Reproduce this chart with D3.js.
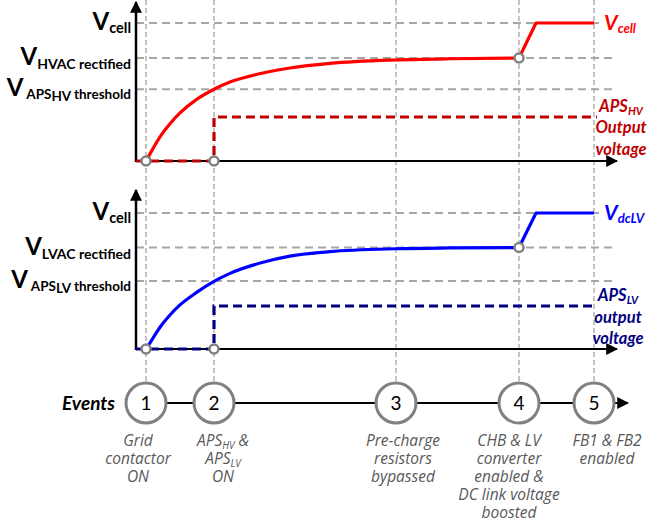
<!DOCTYPE html>
<html>
<head>
<meta charset="utf-8">
<script src="https://cdn.jsdelivr.net/npm/d3@7"></script>
<style>
  body { margin: 0; background: #fff; }
  svg { display: block; font-family: Lato, "Open Sans", sans-serif; }
</style>
</head>
<body>
<div id="chart"></div>
<script>
// time axis is arbitrary units, events along it
const eventT = [10, 78, 260, 383, 458];
const eventNames = ["1", "2", "3", "4", "5"];
const eventLabels = [
  [["Grid"], ["contactor"], ["ON"]],
  [["APS", "HV", " &"], ["APS", "LV"], ["ON"]],
  [["Pre-charge"], ["resistors"], ["bypassed"]],
  [["CHB & LV"], ["converter"], ["enabled &"], ["DC link voltage"], ["boosted"]],
  [["FB1 & FB2"], ["enabled"]]
];
const timeMax = 481;

// normalised voltage levels: Vcell, V rectified, APS threshold
const hvLevels = [1, 0.746, 0.52];
const lvLevels = [1, 0.746, 0.5];
const hvApsLevel = 0.319;
const lvApsLevel = 0.316;

// charging curves
const hvCharge = [[10,0],[17,0.09],[24,0.175],[34,0.27],[44,0.348],[61,0.448],[78,0.52],[94,0.572],[127,0.638],[154,0.674],[194,0.707],[260,0.732],[314,0.741],[383,0.746]];
const hvBoost = [[383,0.746],[400,1],[458,1]];
const lvCharge = [[10,0],[17,0.08],[24,0.16],[34,0.25],[44,0.324],[61,0.418],[78,0.497],[94,0.556],[127,0.638],[154,0.683],[194,0.716],[260,0.737],[314,0.743],[383,0.746]];
const lvBoost = [[383,0.746],[400,1],[458,1]];
const hvAps = [[0,0],[78,0],[78,hvApsLevel],[461,hvApsLevel]];
const lvAps = [[0,0],[78,0],[78,lvApsLevel],[461,lvApsLevel]];
const hvMarkers = [[10,0],[78,0],[383,0.746]];
const lvMarkers = [[10,0],[78,0],[383,0.746]];

const width = 647, height = 524;
const svg = d3.select("#chart").append("svg")
  .attr("width", width).attr("height", height);

svg.append("defs").append("marker")
  .attr("id", "arrow")
  .attr("viewBox", "0 0 10 10")
  .attr("refX", 9).attr("refY", 5)
  .attr("markerWidth", 12).attr("markerHeight", 12)
  .attr("markerUnits", "userSpaceOnUse")
  .attr("orient", "auto")
  .append("path").attr("d", "M0,0L10,5L0,10Z").attr("fill", "#000");

const x = d3.scaleLinear().domain([0, timeMax]).range([136, 617]);
const gridColor = "#a6a6a6";

// vertical event gridlines through both panels
svg.append("g").selectAll("line")
  .data(eventT)
  .join("line")
  .attr("x1", d => x(d)).attr("x2", d => x(d))
  .attr("y1", 0).attr("y2", 383)
  .attr("stroke", gridColor).attr("stroke-width", 1.3)
  .attr("stroke-dasharray", "5,3");

function drawPanel(opts) {
  const y = d3.scaleLinear().domain([0, 1]).range(opts.range);
  const g = svg.append("g");

  // horizontal level gridlines
  g.selectAll(".hgrid")
    .data(opts.levels)
    .join("line")
    .attr("class", "hgrid")
    .attr("x1", x(0)).attr("x2", (d, i) => i === 0 ? x(464) : x(477))
    .attr("y1", d => y(d)).attr("y2", d => y(d))
    .attr("stroke", gridColor).attr("stroke-width", 2)
    .attr("stroke-dasharray", "8,5");

  // axes
  g.append("line")
    .attr("x1", x(0)).attr("x2", x(0))
    .attr("y1", y(0) + 1).attr("y2", y(opts.top))
    .attr("stroke", "#000").attr("stroke-width", 2.5)
    .attr("marker-end", "url(#arrow)");
  g.append("line")
    .attr("x1", x(0) - 1).attr("x2", x(timeMax))
    .attr("y1", y(0)).attr("y2", y(0))
    .attr("stroke", "#000").attr("stroke-width", 2)
    .attr("marker-end", "url(#arrow)");

  const line = d3.line().x(d => x(d[0])).y(d => y(d[1]));
  const smooth = d3.line().x(d => x(d[0])).y(d => y(d[1])).curve(d3.curveMonotoneX);

  g.append("path")
    .attr("d", line(opts.aps))
    .attr("fill", "none")
    .attr("stroke", opts.apsColor).attr("stroke-width", 3.2)
    .attr("stroke-dasharray", "9,5");

  g.append("path")
    .attr("d", smooth(opts.charge))
    .attr("fill", "none")
    .attr("stroke", opts.color).attr("stroke-width", 3.2);
  g.append("path")
    .attr("d", line(opts.boost))
    .attr("fill", "none")
    .attr("stroke", opts.color).attr("stroke-width", 3.2)
    .attr("stroke-linejoin", "round");

  g.selectAll(".mk")
    .data(opts.markers)
    .join("circle")
    .attr("class", "mk")
    .attr("cx", d => x(d[0])).attr("cy", d => y(d[1]))
    .attr("r", 4.5)
    .attr("fill", "#fff").attr("stroke", "#808080").attr("stroke-width", 2.5);

  // left level labels
  opts.levels.forEach((lv, i) => {
    const t = g.append("text")
      .attr("x", 131).attr("y", y(lv) + 7)
      .attr("text-anchor", "end")
      .attr("font-weight", "bold").attr("fill", "#000");
    t.append("tspan").attr("font-size", 24).text("V");
    opts.leftLabels[i].forEach(p => {
      t.append("tspan")
        .attr("font-size", p.size)
        .attr("dy", p.dy)
        .text(p.text);
    });
  });

  // right labels
  const r1 = g.append("text")
    .attr("x", 604).attr("y", y(1) + 7)
    .attr("font-weight", "bold").attr("font-style", "italic")
    .attr("fill", opts.color);
  r1.append("tspan").attr("font-size", 21).text("V");
  r1.append("tspan").attr("font-size", 13).attr("dy", 3).text(opts.rightSub);

  // APS output label, one text block with a line per tspan
  const at = g.append("text")
    .attr("x", opts.apsTextX).attr("y", y(opts.apsLevel) - 5)
    .attr("text-anchor", "middle")
    .attr("font-weight", "bold").attr("font-style", "italic")
    .attr("font-size", 16.5)
    .attr("fill", opts.apsColor);
  opts.apsText.forEach((ln, i) => {
    const row = at.append("tspan")
      .attr("x", opts.apsTextX).attr("dy", i === 0 ? 0 : 21.5);
    if (Array.isArray(ln)) {
      row.append("tspan").text(ln[0]);
      row.append("tspan").attr("font-size", 11).attr("baseline-shift", "-3").text(ln[1]);
    } else {
      row.text(ln);
    }
  });
}

drawPanel({
  range: [161, 23], top: 1.152,
  levels: hvLevels,
  color: "#ff0000", apsColor: "#c00000",
  charge: hvCharge, boost: hvBoost, aps: hvAps, apsLevel: hvApsLevel,
  markers: hvMarkers,
  leftLabels: [
    [{ text: "cell", size: 14.5, dy: 3 }],
    [{ text: "HVAC rectified", size: 14, dy: 4 }],
    [{ text: "  APS", size: 13.5, dy: 3 }, { text: "HV", size: 13.5, dy: 2 }, { text: " threshold", size: 13.5, dy: -2 }]
  ],
  rightSub: "cell",
  apsText: [["APS", "HV"], "Output", "voltage"],
  apsTextX: 621
});

drawPanel({
  range: [349, 213], top: 1.169,
  levels: lvLevels,
  color: "#0000ff", apsColor: "#000080",
  charge: lvCharge, boost: lvBoost, aps: lvAps, apsLevel: lvApsLevel,
  markers: lvMarkers,
  leftLabels: [
    [{ text: "cell", size: 14.5, dy: 3 }],
    [{ text: "LVAC rectified", size: 14, dy: 4 }],
    [{ text: "  APS", size: 13.5, dy: 3 }, { text: "LV", size: 13.5, dy: 2 }, { text: " threshold", size: 13.5, dy: -2 }]
  ],
  rightSub: "dcLV",
  apsText: [["APS", "LV"], "output", "voltage"],
  apsTextX: 618
});

// events row
const evY = 403;
const ev = svg.append("g");
ev.append("line")
  .attr("x1", x(eventT[0])).attr("x2", 628)
  .attr("y1", evY).attr("y2", evY)
  .attr("stroke", "#000").attr("stroke-width", 2)
  .attr("marker-end", "url(#arrow)");
ev.append("text")
  .attr("x", 115).attr("y", evY + 7)
  .attr("text-anchor", "end")
  .attr("font-size", 19).attr("font-weight", "bold").attr("font-style", "italic")
  .text("Events");

ev.selectAll("circle")
  .data(eventT)
  .join("circle")
  .attr("cx", d => x(d)).attr("cy", evY).attr("r", 20)
  .attr("fill", "#fff").attr("stroke", "#808080").attr("stroke-width", 3);
ev.selectAll(".num")
  .data(eventT)
  .join("text")
  .attr("class", "num")
  .attr("x", d => x(d)).attr("y", evY + 7)
  .attr("text-anchor", "middle").attr("font-size", 19)
  .text((d, i) => eventNames[i]);

// descriptions under each event, one text block per event
const labelShift = [-8, 9, 7, -10, 13];
eventLabels.forEach((lines, i) => {
  const cx = x(eventT[i]) + labelShift[i];
  const t = ev.append("text")
    .attr("x", cx).attr("y", 446)
    .attr("text-anchor", "middle")
    .attr("font-family", "'Open Sans', sans-serif")
    .attr("font-size", 15.5).attr("font-style", "italic")
    .attr("fill", "#595959");
  lines.forEach((ln, j) => {
    const row = t.append("tspan").attr("x", cx).attr("dy", j === 0 ? 0 : 18);
    row.append("tspan").text(ln[0]);
    if (ln.length > 1) {
      row.append("tspan").attr("font-size", 10).attr("baseline-shift", "-3").text(ln[1]);
      if (ln.length > 2) row.append("tspan").text(ln[2]);
    }
  });
});
</script>
</body>
</html>
